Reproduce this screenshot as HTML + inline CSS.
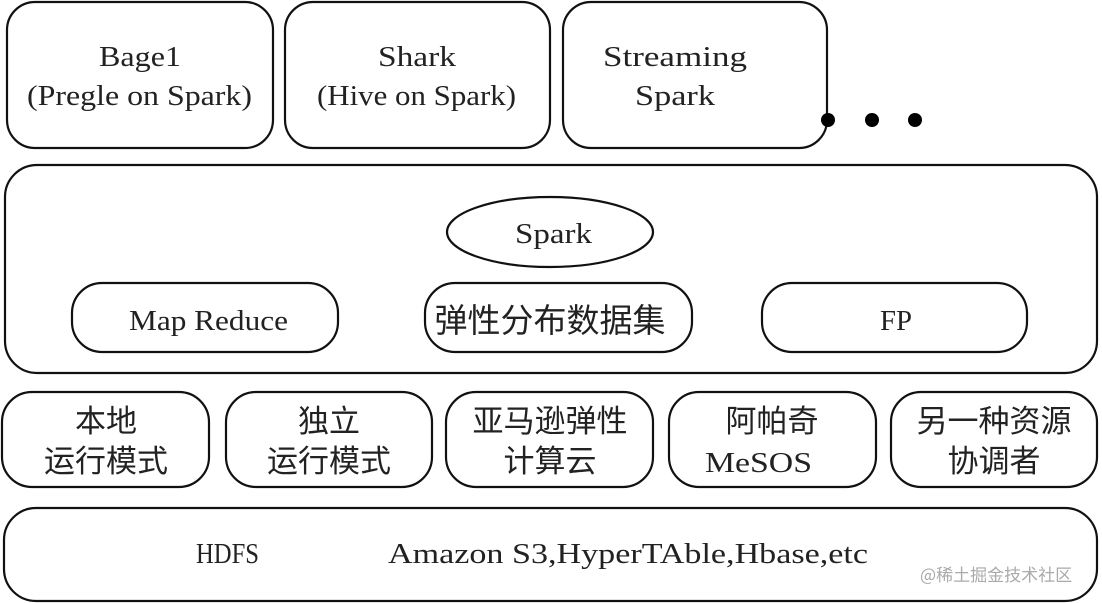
<!DOCTYPE html>
<html><head><meta charset="utf-8"><style>html,body{margin:0;padding:0;background:#fff}svg{display:block}</style></head><body>
<svg width="1102" height="603" viewBox="0 0 1102 603" xmlns="http://www.w3.org/2000/svg">
<g fill="#fff" stroke="#111" stroke-width="2.2">
<rect x="7" y="2" width="266" height="146" rx="28"/>
<rect x="285" y="2" width="265" height="146" rx="28"/>
<rect x="563" y="2" width="264" height="146" rx="28"/>
<rect x="5" y="165" width="1092" height="208" rx="32"/>
<ellipse cx="550" cy="232" rx="103" ry="35"/>
<rect x="72" y="283" width="266" height="69" rx="30"/>
<rect x="425" y="283" width="267" height="69" rx="30"/>
<rect x="762" y="283" width="265" height="69" rx="30"/>
<rect x="2" y="392" width="207" height="95" rx="30"/>
<rect x="226" y="392" width="206" height="95" rx="30"/>
<rect x="446" y="392" width="207" height="95" rx="30"/>
<rect x="669" y="392" width="207" height="95" rx="30"/>
<rect x="891" y="392" width="206" height="95" rx="30"/>
<rect x="4" y="508" width="1093" height="93" rx="32"/>
</g>
<g fill="#000"><circle cx="828" cy="120" r="7"/><circle cx="872" cy="120" r="7"/><circle cx="915" cy="120" r="7"/></g>
<g font-family="'Liberation Serif','Noto Serif CJK SC',serif" font-size="28" fill="#222" lengthAdjust="spacingAndGlyphs">
<text x="99" y="66" textLength="82" lengthAdjust="spacingAndGlyphs">Bage1</text>
<text x="27" y="105" textLength="225" lengthAdjust="spacingAndGlyphs">(Pregle on Spark)</text>
<text x="378" y="66" textLength="78" lengthAdjust="spacingAndGlyphs">Shark</text>
<text x="317" y="105" textLength="199" lengthAdjust="spacingAndGlyphs">(Hive on Spark)</text>
<text x="603" y="66" textLength="144" lengthAdjust="spacingAndGlyphs">Streaming</text>
<text x="635" y="105" textLength="80" lengthAdjust="spacingAndGlyphs">Spark</text>
<text x="515" y="243" textLength="77" lengthAdjust="spacingAndGlyphs">Spark</text>
<text x="129" y="330" textLength="159" lengthAdjust="spacingAndGlyphs">Map Reduce</text>
<text x="880" y="330" textLength="32" lengthAdjust="spacingAndGlyphs">FP</text>
<text x="196" y="563" textLength="63" lengthAdjust="spacingAndGlyphs">HDFS</text>
<text x="388" y="563" textLength="480" lengthAdjust="spacingAndGlyphs">Amazon S3,HyperTAble,Hbase,etc</text>
<text x="705" y="472" textLength="107" lengthAdjust="spacingAndGlyphs">MeSOS</text>
</g>
<g font-family="'Noto Sans CJK SC',sans-serif" font-size="31" fill="#222" text-anchor="middle">
<text x="550" y="332" font-size="33">弹性分布数据集</text>
<text x="106" y="432">本地</text><text x="106" y="472">运行模式</text>
<text x="329" y="432">独立</text><text x="329" y="472">运行模式</text>
<text x="550" y="432">亚马逊弹性</text><text x="550" y="472">计算云</text>
<text x="772" y="432">阿帕奇</text>
<text x="994" y="432">另一种资源</text><text x="994" y="472">协调者</text>
</g>
<text x="920" y="581" font-family="'Noto Sans CJK SC',sans-serif" font-size="17" fill="#aaa">@稀土掘金技术社区</text>
</svg>
</body></html>
